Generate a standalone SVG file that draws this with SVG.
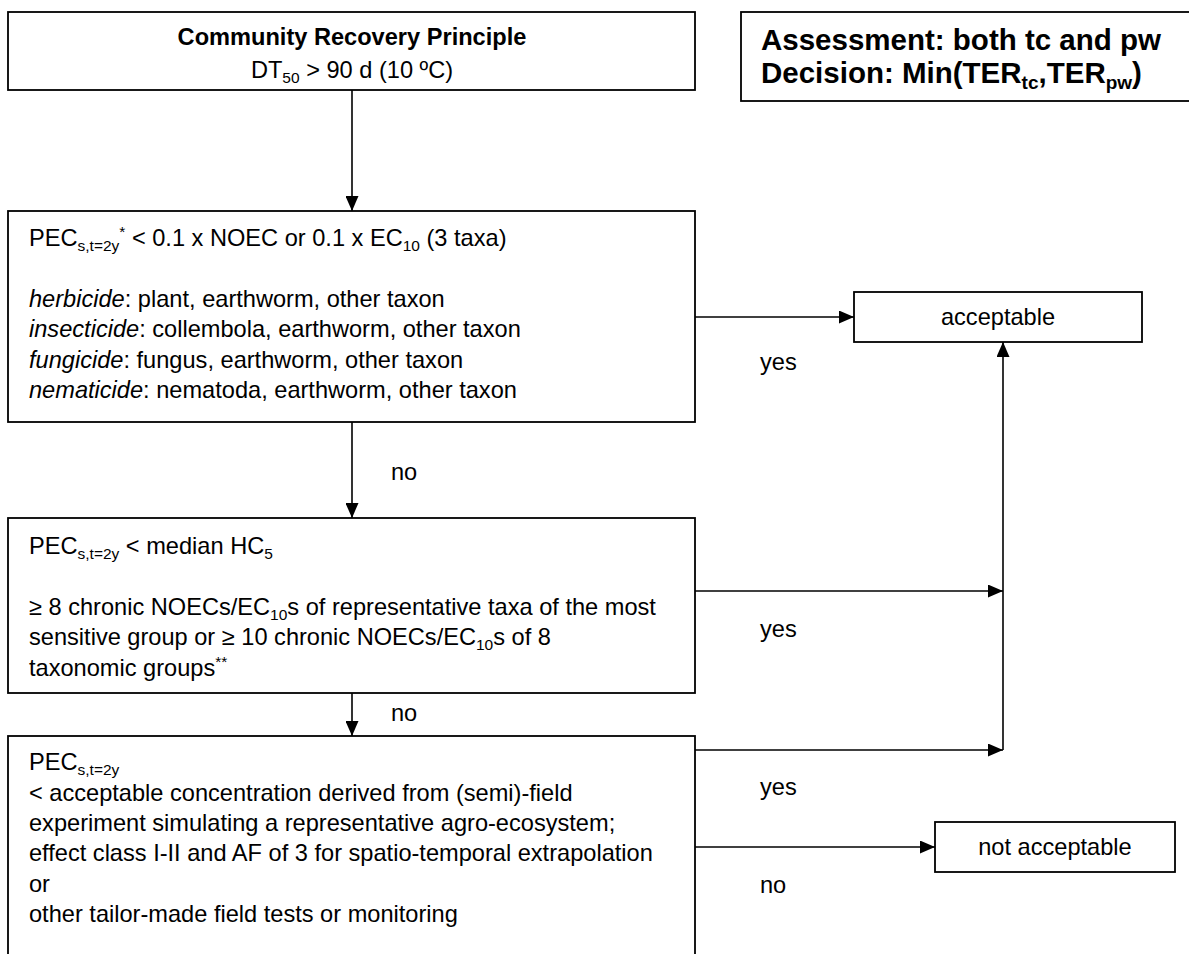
<svg xmlns="http://www.w3.org/2000/svg" width="1189" height="954" viewBox="0 0 1189 954">
<defs>
<style>
.box{fill:#fff;stroke:#000;stroke-width:1.8}
.t{font-family:"Liberation Sans",Arial,sans-serif;font-size:23.6px;fill:#000}
.b{font-weight:bold}
.big{font-family:"Liberation Sans",Arial,sans-serif;font-size:29.5px;font-weight:bold;fill:#000}
.c{fill:none;stroke:#000;stroke-width:1.6}
.i{font-style:italic}
</style>
<marker id="ah" markerUnits="userSpaceOnUse" markerWidth="15" markerHeight="13" refX="15" refY="6.5" orient="auto">
<path d="M0,0 L15,6.5 L0,13 z" fill="#000"/>
</marker>
</defs>
<rect width="1189" height="954" fill="#fff"/>

<g id="connectors">
<line class="c" x1="352" y1="90" x2="352" y2="211" marker-end="url(#ah)"/>
<line class="c" x1="695" y1="317" x2="854" y2="317" marker-end="url(#ah)"/>
<line class="c" x1="352" y1="422" x2="352" y2="518" marker-end="url(#ah)"/>
<line class="c" x1="695" y1="591" x2="1003" y2="591" marker-end="url(#ah)"/>
<line class="c" x1="352" y1="693" x2="352" y2="736" marker-end="url(#ah)"/>
<line class="c" x1="695" y1="750" x2="1003" y2="750" marker-end="url(#ah)"/>
<line class="c" x1="1003" y1="750" x2="1003" y2="342" marker-end="url(#ah)"/>
<line class="c" x1="695" y1="847" x2="935" y2="847" marker-end="url(#ah)"/>
<text class="t" x="391" y="480">no</text>
<text class="t" x="391" y="721">no</text>
<text class="t" x="760" y="370">yes</text>
<text class="t" x="760" y="637">yes</text>
<text class="t" x="760" y="795">yes</text>
<text class="t" x="760" y="893">no</text>
</g>

<g id="recovery">
<rect class="box" x="8" y="12" width="687" height="78"/>
<text class="t b" x="352" y="45" text-anchor="middle">Community Recovery Principle</text>
<text class="t" x="352" y="78" text-anchor="middle">DT<tspan font-size="15.5" dy="5">50</tspan><tspan dy="-5"> &gt; 90 d (10 ºC)</tspan></text>
</g>

<g id="assessment">
<rect class="box" x="741" y="12" width="460" height="89"/>
<text class="big" x="761" y="50">Assessment: both tc and pw</text>
<text class="big" x="761" y="83">Decision: Min(TER<tspan font-size="19" dy="6">tc</tspan><tspan dy="-6">,TER</tspan><tspan font-size="19" dy="6">pw</tspan><tspan dy="-6">)</tspan></text>
</g>

<g id="tier1">
<rect class="box" x="8" y="211" width="687" height="211"/>
<text class="t" x="29" y="246">PEC<tspan font-size="15.5" dy="5">s,t=2y</tspan><tspan font-size="15.5" dy="-14">*</tspan><tspan dy="9"> &lt; 0.1 x NOEC or 0.1 x EC</tspan><tspan font-size="15.5" dy="5">10</tspan><tspan dy="-5"> (3 taxa)</tspan></text>
<text class="t" x="29" y="307"><tspan class="i">herbicide</tspan>: plant, earthworm, other taxon</text>
<text class="t" x="29" y="337"><tspan class="i">insecticide</tspan>: collembola, earthworm, other taxon</text>
<text class="t" x="29" y="368"><tspan class="i">fungicide</tspan>: fungus, earthworm, other taxon</text>
<text class="t" x="29" y="398"><tspan class="i">nematicide</tspan>: nematoda, earthworm, other taxon</text>
</g>

<g id="acceptable">
<rect class="box" x="854" y="292" width="288" height="50"/>
<text class="t" x="998" y="325" text-anchor="middle">acceptable</text>
</g>

<g id="tier2">
<rect class="box" x="8" y="518" width="687" height="175"/>
<text class="t" x="29" y="554">PEC<tspan font-size="15.5" dy="5">s,t=2y</tspan><tspan dy="-5"> &lt; median HC</tspan><tspan font-size="15.5" dy="5">5</tspan></text>
<text class="t" x="29" y="615">≥ 8 chronic NOECs/EC<tspan font-size="15.5" dy="5">10</tspan><tspan dy="-5">s of representative taxa of the most</tspan></text>
<text class="t" x="29" y="645">sensitive group or ≥ 10 chronic NOECs/EC<tspan font-size="15.5" dy="5">10</tspan><tspan dy="-5">s of 8</tspan></text>
<text class="t" x="29" y="676">taxonomic groups<tspan font-size="15.5" dy="-9">**</tspan></text>
</g>

<g id="tier3">
<rect class="box" x="8" y="736" width="687" height="230"/>
<text class="t" x="29" y="770">PEC<tspan font-size="15.5" dy="5">s,t=2y</tspan></text>
<text class="t" x="29" y="801">&lt; acceptable concentration derived from (semi)-field</text>
<text class="t" x="29" y="831">experiment simulating a representative agro-ecosystem;</text>
<text class="t" x="29" y="861">effect class I-II and AF of 3 for spatio-temporal extrapolation</text>
<text class="t" x="29" y="892">or</text>
<text class="t" x="29" y="922">other tailor-made field tests or monitoring</text>
</g>

<g id="not-acceptable">
<rect class="box" x="935" y="822" width="240" height="50"/>
<text class="t" x="1055" y="855" text-anchor="middle">not acceptable</text>
</g>
</svg>
